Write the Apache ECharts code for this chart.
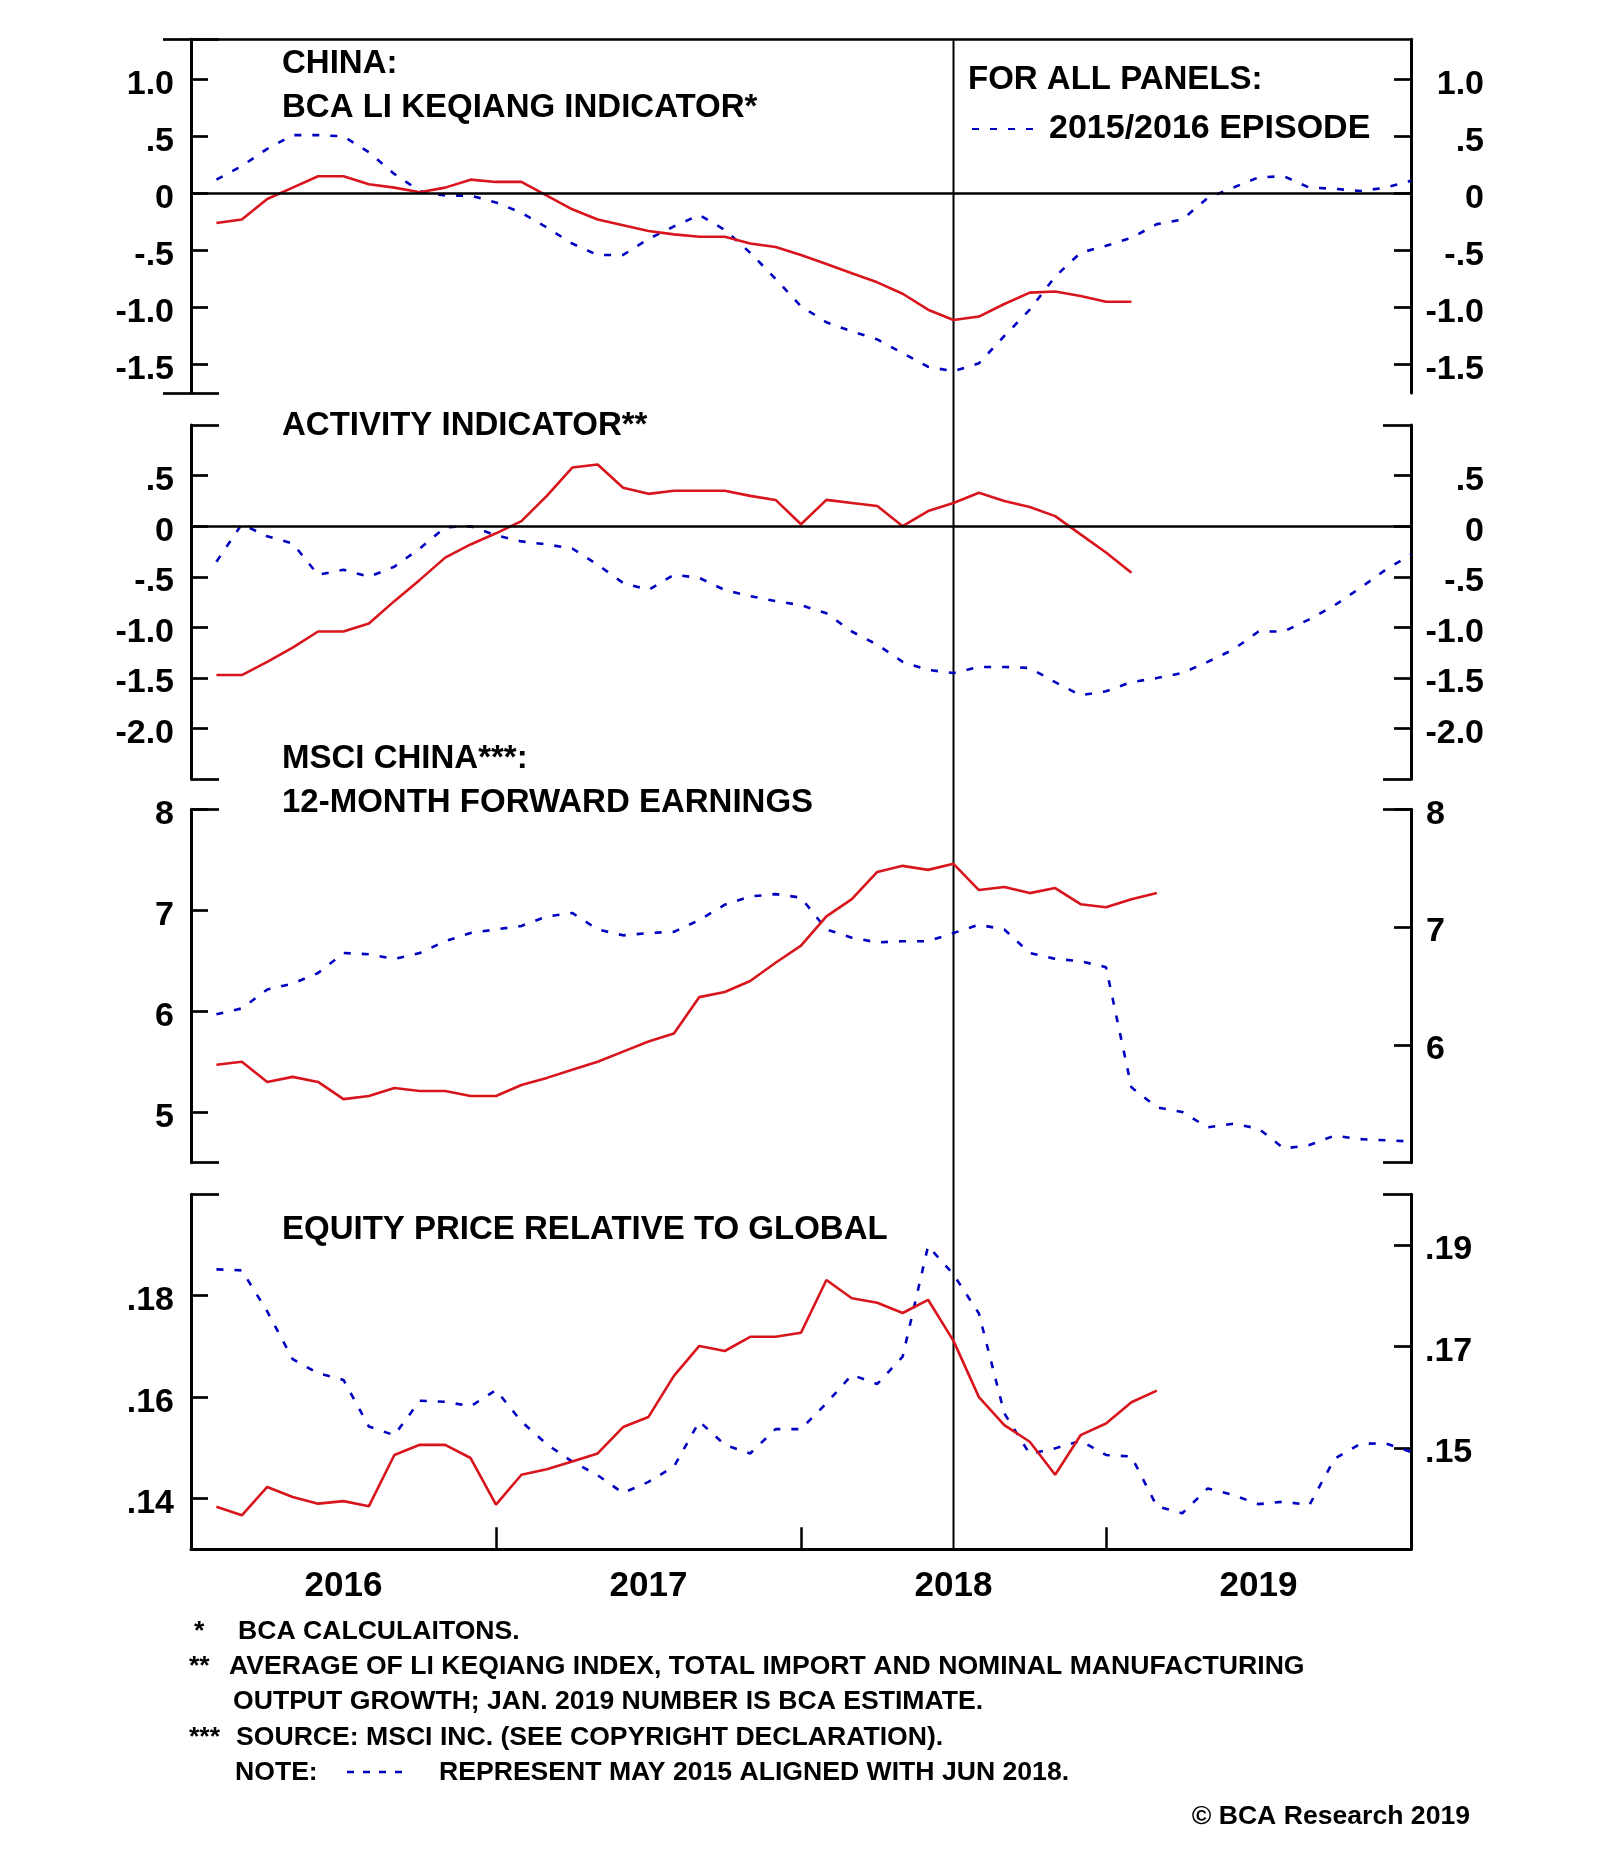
<!DOCTYPE html>
<html><head><meta charset="utf-8">
<script src="https://cdn.jsdelivr.net/npm/echarts@6/dist/echarts.min.js"></script>
<style>html,body{margin:0;padding:0;background:#fff}#c{width:1600px;height:1849px}</style>
</head><body><div id="c"></div>
<script>
// ---------- DATA ----------
// x positions: month number counted from Jan 2016 (1 = Jan 2016 ... 48 = Dec 2019)
const months = [1,2,3,4,5,6,7,8,9,10,11,12,13,14,15,16,17,18,19,20,21,22,23,24,25,26,27,28,29,30,31,32,33,34,35,36,37,38,39,40,41,42,43,44,45,46,47,48];
const alignMonth = 30; // Jun 2018 (May 2015 aligned here)
const yearTickMonths = [12, 24, 36];
const yearLabelMonths = [6, 18, 30, 42];
const yearLabels = ['2016', '2017', '2018', '2019'];

// Panel 1: BCA Li Keqiang indicator
const likeqiangCurrent = [-0.26,-0.23,-0.05,0.05,0.15,0.15,0.08,0.05,0.01,0.05,0.12,0.10,0.10,-0.02,-0.14,-0.23,-0.28,-0.33,-0.36,-0.38,-0.38,-0.44,-0.47,-0.54,-0.62,-0.70,-0.78,-0.88,-1.02,-1.11,-1.08,-0.97,-0.87,-0.86,-0.90,-0.95,-0.95];
const likeqiangEpisode = [0.12,0.24,0.39,0.51,0.51,0.50,0.36,0.17,0.02,-0.02,-0.02,-0.08,-0.17,-0.30,-0.44,-0.54,-0.54,-0.40,-0.29,-0.19,-0.32,-0.52,-0.75,-0.99,-1.13,-1.21,-1.28,-1.40,-1.52,-1.56,-1.49,-1.25,-1.02,-0.73,-0.52,-0.46,-0.39,-0.27,-0.23,-0.04,0.05,0.14,0.15,0.05,0.04,0.02,0.05,0.11];
const p1Ticks = [1, 0.5, 0, -0.5, -1, -1.5];
const p1Labels = ['1.0', '.5', '0', '-.5', '-1.0', '-1.5'];

// Panel 2: Activity indicator
const activityCurrent = [-1.47,-1.47,-1.34,-1.20,-1.04,-1.04,-0.96,-0.74,-0.53,-0.31,-0.18,-0.07,0.05,0.30,0.58,0.61,0.38,0.32,0.35,0.35,0.35,0.30,0.26,0.02,0.26,0.23,0.20,0.00,0.15,0.23,0.33,0.25,0.19,0.10,-0.08,-0.26,-0.46];
const activityEpisode = [-0.35,0.02,-0.10,-0.17,-0.48,-0.43,-0.50,-0.40,-0.22,-0.01,0.00,-0.09,-0.15,-0.18,-0.22,-0.38,-0.56,-0.63,-0.48,-0.51,-0.63,-0.69,-0.74,-0.78,-0.86,-1.04,-1.17,-1.34,-1.42,-1.45,-1.39,-1.39,-1.40,-1.54,-1.67,-1.63,-1.54,-1.50,-1.45,-1.34,-1.22,-1.04,-1.04,-0.92,-0.78,-0.61,-0.43,-0.28];
const p2Ticks = [0.5, 0, -0.5, -1, -1.5, -2];
const p2Labels = ['.5', '0', '-.5', '-1.0', '-1.5', '-2.0'];

// Panel 3: MSCI China 12-month forward earnings
const earningsCurrent = [5.47,5.50,5.30,5.35,5.30,5.13,5.16,5.24,5.21,5.21,5.16,5.16,5.27,5.34,5.42,5.50,5.60,5.70,5.78,6.14,6.19,6.30,6.48,6.65,6.94,7.11,7.38,7.44,7.40,7.46,7.20,7.23,7.17,7.22,7.06,7.03,7.11,7.17];
const earningsEpisode = [6.26,6.31,6.47,6.52,6.61,6.78,6.77,6.73,6.78,6.88,6.95,6.98,7.01,7.09,7.12,6.98,6.93,6.95,6.96,7.06,7.19,7.26,7.28,7.25,6.98,6.91,6.87,6.88,6.88,6.95,7.02,6.98,6.78,6.73,6.71,6.66,5.64,5.47,5.43,5.30,5.33,5.29,5.12,5.15,5.23,5.20,5.19,5.18];
const p3LeftTicks = [8, 7, 6, 5];
const p3LeftLabels = ['8', '7', '6', '5'];
const p3RightTicks = [8, 7, 6];
const p3RightLabels = ['8', '7', '6'];

// Panel 4: Equity price relative to global
const relativeCurrent = [0.1384,0.1367,0.1423,0.1403,0.1390,0.1395,0.1385,0.1486,0.1506,0.1506,0.1480,0.1388,0.1447,0.1458,0.1473,0.1489,0.1541,0.1561,0.1642,0.1701,0.1691,0.1719,0.1719,0.1727,0.1831,0.1795,0.1786,0.1766,0.1792,0.1711,0.1600,0.1545,0.1512,0.1447,0.1525,0.1548,0.1590,0.1613];
const relativeEpisode = [0.1852,0.1850,0.1769,0.1675,0.1647,0.1634,0.1542,0.1525,0.1593,0.1591,0.1582,0.1614,0.1552,0.1507,0.1473,0.1446,0.1411,0.1433,0.1463,0.1552,0.1506,0.1489,0.1537,0.1537,0.1588,0.1644,0.1626,0.1680,0.1898,0.1842,0.1765,0.1568,0.1488,0.1499,0.1514,0.1486,0.1483,0.1385,0.1371,0.1420,0.1407,0.1389,0.1394,0.1387,0.1479,0.1508,0.1509,0.1492];
const p4LeftTicks = [0.18, 0.16, 0.14];
const p4LeftLabels = ['.18', '.16', '.14'];
const p4RightTicks = [0.19, 0.17, 0.15];
const p4RightLabels = ['.19', '.17', '.15'];

// ---------- STYLE / LAYOUT ----------
const FONT = "'Liberation Sans', Arial, Helvetica, sans-serif";
const RED = '#d8141c';
const BLUE = '#0000c0';
const BLACK = '#000';
const PLOT_LEFT = 191, PLOT_WIDTH = 1220;
const panels = [
  { top: 39.3, height: 353.7, min: -1.75, max: 1.35, rmin: -1.75, rmax: 1.35,
    lt: p1Ticks, ll: p1Labels, rt: p1Ticks, rl: p1Labels, rAlign: 'right', rMargin: 73,
    cur: likeqiangCurrent, epi: likeqiangEpisode, zero: true },
  { top: 425, height: 354.3, min: -2.5, max: 1.0, rmin: -2.5, rmax: 1.0,
    lt: p2Ticks, ll: p2Labels, rt: p2Ticks, rl: p2Labels, rAlign: 'right', rMargin: 73,
    cur: activityCurrent, epi: activityEpisode, zero: true },
  { top: 809.3, height: 353.4, min: 4.5, max: 8, rmin: 5, rmax: 8,
    lt: p3LeftTicks, ll: p3LeftLabels, rt: p3RightTicks, rl: p3RightLabels, rAlign: 'left', rMargin: 15,
    cur: earningsCurrent, epi: earningsEpisode, zero: false },
  { top: 1194.3, height: 355, min: 0.13, max: 0.20, rmin: 0.13, rmax: 0.20,
    lt: p4LeftTicks, ll: p4LeftLabels, rt: p4RightTicks, rl: p4RightLabels, rAlign: 'left', rMargin: 14,
    cur: relativeCurrent, epi: relativeEpisode, zero: false }
];

function labelFor(ticks, labels) {
  return function (v) {
    for (let i = 0; i < ticks.length; i++) if (Math.abs(ticks[i] - v) < 1e-6) return labels[i];
    return '';
  };
}
function pairs(arr) { return arr.map((v, i) => [months[i], v]); }

const grid = [], xAxis = [], yAxis = [], series = [];
const labelStyle = { color: BLACK, fontSize: 34, fontWeight: 'bold', fontFamily: FONT, verticalAlign: 'top', lineHeight: 10 };

panels.forEach((p, i) => {
  grid.push({ left: PLOT_LEFT, width: PLOT_WIDTH, top: p.top, height: p.height, containLabel: false, outerBoundsMode: 'none' });
  const isBottom = i === 3;
  xAxis.push({
    gridIndex: i, type: 'value', min: 0, max: 48, position: 'bottom',
    splitLine: { show: false },
    axisLine: { show: isBottom, onZero: false, lineStyle: { color: BLACK, width: 3 } },
    axisTick: { show: isBottom, inside: true, length: 22, customValues: yearTickMonths, lineStyle: { color: BLACK, width: 2.5 } },
    axisLabel: { show: isBottom, customValues: yearLabelMonths, margin: 20,
      formatter: v => yearLabels[Math.floor(v / 12)] || '',
      color: BLACK, fontSize: 35, fontWeight: 'bold', fontFamily: FONT }
  });
  const base = yAxis.length;
  // left main
  yAxis.push({
    gridIndex: i, type: 'value', position: 'left', min: p.min, max: p.max,
    splitLine: { show: false },
    axisLine: { show: true, onZero: false, lineStyle: { color: BLACK, width: 3 } },
    axisTick: { show: true, inside: true, length: 17, customValues: p.lt, lineStyle: { color: BLACK, width: 2.7 } },
    axisLabel: Object.assign({ customValues: p.lt, margin: 17, formatter: labelFor(p.lt, p.ll) }, labelStyle)
  });
  // right main
  yAxis.push({
    gridIndex: i, type: 'value', position: 'right', min: p.rmin, max: p.rmax,
    splitLine: { show: false },
    axisLine: { show: true, onZero: false, lineStyle: { color: BLACK, width: 3 } },
    axisTick: { show: true, inside: true, length: 17, customValues: p.rt, lineStyle: { color: BLACK, width: 2.7 } },
    axisLabel: Object.assign({ customValues: p.rt, margin: p.rMargin, align: p.rAlign, formatter: labelFor(p.rt, p.rl) }, labelStyle)
  });
  // corner marks (ends of the frame)
  ['left', 'right'].forEach(pos => {
    yAxis.push({
      gridIndex: i, type: 'value', position: pos, min: p.min, max: p.max,
      splitLine: { show: false },
      axisLine: { show: false },
      axisTick: { show: true, inside: true, length: 28, customValues: [p.min, p.max], lineStyle: { color: BLACK, width: 2.7 } },
      axisLabel: { show: false }
    });
  });
  const curIdx = base;
  const epiIdx = (i >= 2) ? base + 1 : base;
  series.push({
    name: 'China', type: 'line', xAxisIndex: i, yAxisIndex: curIdx, data: pairs(p.cur),
    symbol: 'none', lineStyle: { color: RED, width: 2.6 }, itemStyle: { color: RED }, z: 3,
    markLine: p.zero ? { silent: true, symbol: ['none', 'none'], label: { show: false },
      lineStyle: { color: BLACK, width: 2.7, type: 'solid' }, data: [{ yAxis: 0 }], animation: false } : undefined
  });
  series.push({
    name: '2015/2016 EPISODE', type: 'line', xAxisIndex: i, yAxisIndex: epiIdx, data: pairs(p.epi),
    symbol: 'none', lineStyle: { color: BLUE, width: 2.6, type: [7, 11] }, itemStyle: { color: BLUE }, z: 2
  });
});

// top frame line of first panel
xAxis.push({
  gridIndex: 0, type: 'value', min: 0, max: 48, position: 'top',
  splitLine: { show: false },
  axisLine: { show: true, onZero: false, lineStyle: { color: BLACK, width: 2.7 } },
  axisTick: { show: false }, axisLabel: { show: false }
});
// overlay grid for the alignment vertical line across all panels
grid.push({ left: PLOT_LEFT, width: PLOT_WIDTH, top: 39.3, height: 1510, containLabel: false, outerBoundsMode: 'none' });
const overlayX = xAxis.length;
xAxis.push({ gridIndex: 4, type: 'value', min: 0, max: 48, show: false });
const overlayY = yAxis.length;
yAxis.push({ gridIndex: 4, type: 'value', min: 0, max: 1, show: false });
series.push({
  name: 'align', type: 'line', xAxisIndex: overlayX, yAxisIndex: overlayY,
  data: [[alignMonth, 0], [alignMonth, 1]], symbol: 'none', silent: true,
  lineStyle: { color: BLACK, width: 2 }, z: 1
});

// ---------- TEXT ----------
const T = (text, x, y, size, align) => ({
  type: 'text', x: x, y: y, silent: true,
  style: { text: text, fill: BLACK, fontSize: size, fontWeight: 'bold', fontFamily: FONT, align: align || 'left', verticalAlign: 'middle' }
});
const FN = 26.6;
const graphic = [
  T('CHINA:', 282, 64, 33),
  T('BCA LI KEQIANG INDICATOR*', 282, 108, 33),
  T('FOR ALL PANELS:', 968, 80, 33),
  T('ACTIVITY INDICATOR**', 282, 426, 33),
  T('MSCI CHINA***:', 282, 759, 33),
  T('12-MONTH FORWARD EARNINGS', 282, 803, 33),
  T('EQUITY PRICE RELATIVE TO GLOBAL', 282, 1230, 33),
  T('*', 194, 1632, FN),
  T('BCA CALCULAITONS.', 238, 1632, FN),
  T('**', 189, 1667, FN),
  T('AVERAGE OF LI KEQIANG INDEX, TOTAL IMPORT AND NOMINAL MANUFACTURING', 229, 1667, FN),
  T('OUTPUT GROWTH; JAN. 2019 NUMBER IS BCA ESTIMATE.', 233, 1702, FN),
  T('***', 189, 1738, FN),
  T('SOURCE: MSCI INC. (SEE COPYRIGHT DECLARATION).', 236, 1738, FN),
  T('NOTE:', 235, 1773, FN),
  { type: 'line', silent: true, shape: { x1: 347, y1: 1772, x2: 410, y2: 1772 },
    style: { stroke: BLUE, lineWidth: 2.6, lineDash: [7, 9] } },
  T('REPRESENT MAY 2015 ALIGNED WITH JUN 2018.', 439, 1773, FN),
  T('\u00A9 BCA Research 2019', 1470, 1817, FN, 'right')
];

const chart = echarts.init(document.getElementById('c'), null, { renderer: 'canvas', width: 1600, height: 1849 });
chart.setOption({
  backgroundColor: '#fff',
  animation: false,
  grid, xAxis, yAxis, series, graphic,
  legend: {
    data: ['2015/2016 EPISODE'], left: 966, top: 107, orient: 'horizontal',
    itemWidth: 64, itemHeight: 14, selectedMode: false,
    itemStyle: { color: 'rgba(0,0,0,0)', borderColor: 'rgba(0,0,0,0)', borderWidth: 0, opacity: 0 },
    textStyle: { color: BLACK, fontSize: 34, fontWeight: 'bold', fontFamily: FONT, padding: [0, 0, 0, 8] }
  }
});
</script>
</body></html>
